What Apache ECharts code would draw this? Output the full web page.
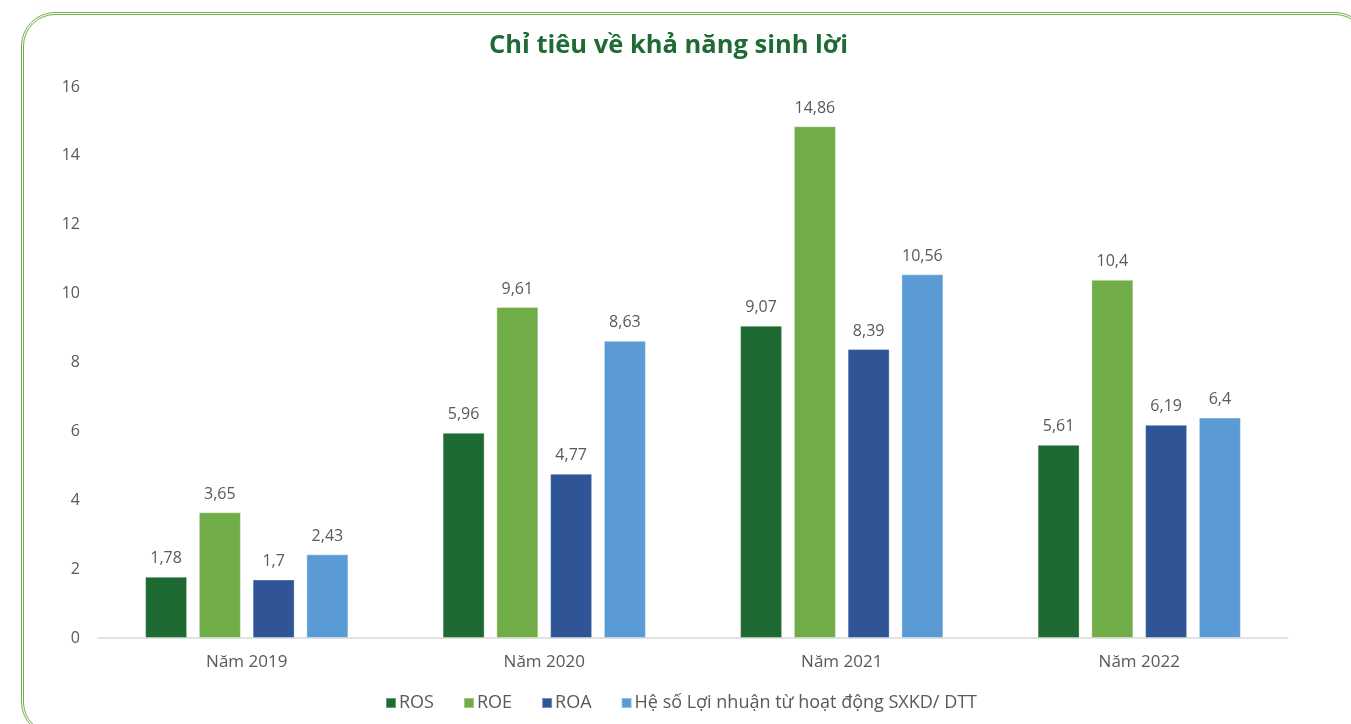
<!DOCTYPE html>
<html><head><meta charset="utf-8">
<script src="https://cdn.jsdelivr.net/npm/echarts@6/dist/echarts.min.js"></script>
<style>
html,body{margin:0;padding:0;background:#fff;overflow:hidden;}
#frame{position:absolute;left:21px;top:12px;width:1348px;height:724px;border:3px double #6fb04a;border-radius:34px;box-sizing:border-box;}
#main{position:absolute;left:0;top:0;width:1351px;height:724px;}
</style></head>
<body>
<div id="frame"></div>
<div id="main"></div>
<script>
const categories = ['Năm 2019', 'Năm 2020', 'Năm 2021', 'Năm 2022'];
const seriesNames = ['ROS', 'ROE', 'ROA', 'Hệ số Lợi nhuận từ hoạt động SXKD/ DTT'];
const ros = [1.78, 5.96, 9.07, 5.61];
const roe = [3.65, 9.61, 14.86, 10.4];
const roa = [1.7, 4.77, 8.39, 6.19];
const heSo = [2.43, 8.63, 10.56, 6.4];
const yTicks = [0, 2, 4, 6, 8, 10, 12, 14, 16];
const colors = ['#1d6a33', '#70ac47', '#2f5597', '#5b9bd5'];

const font = '"Open Sans", "Noto Sans", sans-serif';
const chart = echarts.init(document.getElementById('main'));
const allData = [ros, roe, roa, heSo];
chart.setOption({
  animation: false,
  title: {
    text: 'Chỉ tiêu về khả năng sinh lời',
    left: 484, top: 28,
    textStyle: {color: '#1e6b35', fontSize: 25.5, fontWeight: 'bold', fontFamily: font}
  },
  legend: {
    bottom: 7, left: 380,
    itemWidth: 10, itemHeight: 10, itemGap: 29,
    icon: 'rect',
    textStyle: {color: '#595959', fontSize: 18, fontFamily: font, padding: [0,0,0,-2]},
    data: seriesNames
  },
  grid: {left: 98, right: 63, top: 87, bottom: 86},
  xAxis: {
    type: 'category', data: categories,
    axisLine: {lineStyle: {color: '#d9d9d9', width: 1.5}},
    axisTick: {show: false},
    axisLabel: {color: '#595959', fontSize: 17, fontFamily: font, margin: 16}
  },
  yAxis: {
    type: 'value', min: yTicks[0], max: yTicks[yTicks.length-1], interval: 2,
    axisLine: {show: false}, axisTick: {show: false},
    splitLine: {show: false},
    axisLabel: {color: '#595959', fontSize: 16, fontFamily: font, margin: 18}
  },
  series: seriesNames.map((n, i) => ({
    name: n, type: 'bar', data: allData[i],
    barWidth: 42, barGap: '28%',
    itemStyle: {color: colors[i], borderColor: 'rgba(255,255,255,0.35)', borderWidth: 1},
    label: {
      show: true, position: 'top', distance: 10,
      color: '#595959', fontSize: 16, fontFamily: font,
      formatter: p => String(p.value).replace('.', ',')
    }
  }))
});
</script>
</body></html>
